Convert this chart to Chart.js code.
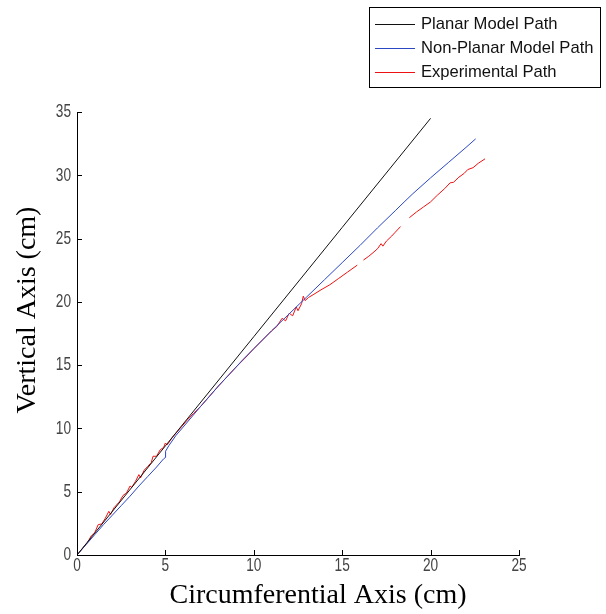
<!DOCTYPE html>
<html>
<head>
<meta charset="utf-8">
<script src="https://cdn.jsdelivr.net/npm/chart.js@4/dist/chart.umd.min.js"></script>
<style>
  body { margin: 0; background: #fff; }
  #plot { display: block; }
</style>
</head>
<body>
<canvas id="plot" width="606" height="614"></canvas>
<script>
const xTicks = [0, 5, 10, 15, 20, 25];
const yTicks = [0, 5, 10, 15, 20, 25, 30, 35];

const planarX = [0, 5, 10, 15, 20];
const planarY = [0, 8.62, 17.25, 25.88, 34.5];

const nonPlanarX = [0, 0.5, 1, 1.5, 2, 2.5, 3, 3.5, 4, 4.5, 4.9, 5.0, 5.02, 5.0, 5.2, 5.6, 6, 7, 8, 9,
  9.4, 10, 11, 12, 13, 14, 15, 16, 17, 18, 18.55, 19, 20, 21, 22, 22.55];
const nonPlanarY = [0, 0.8, 1.6, 2.4, 3.15, 3.9, 4.65, 5.45, 6.2, 6.95, 7.6, 7.7, 7.95, 8.2, 8.65, 9.45, 10.1, 11.75, 13.35, 14.85,
  15.46, 16.3, 17.7, 19.05, 20.4, 21.75, 23.1, 24.45, 25.85, 27.2, 27.95, 28.55, 29.8, 31.0, 32.2, 32.88];

const expX = [0, 0.3, 0.6, 0.8, 1.0, 1.2, 1.4, 1.6, 1.8, 1.9,
  2.1, 2.4, 2.6, 2.8, 3.0, 3.1, 3.3, 3.5, 3.6, 3.8,
  4.0, 4.2, 4.3, 4.5, 4.7, 4.9, 5.0, 5.1, 5.4, 5.8,
  6.2, 6.6, 7.0, 7.5, 8.0, 8.5, 9.0, 9.5, 10.0, 10.5,
  11.0, 11.3, 11.6, 11.8, 12.0, 12.2, 12.4, 12.5, 12.7, 12.8,
  12.9, 13.1, 13.4, 13.8, 14.3, 14.8, 15.3, 15.85, 16.0, 16.2,
  16.5, 16.8, 17.0, 17.2, 17.3, 17.5, 17.8, 18.0, 18.3, 18.5,
  18.8, 19.2, 19.6, 20.0, 20.4, 20.8, 21.1, 21.3, 21.6, 21.9,
  22.1, 22.4, 22.7, 23.08];
const expY = [0, 0.5, 1.0, 1.5, 1.75, 2.4, 2.45, 2.9, 3.45, 3.2,
  3.75, 4.2, 4.7, 4.9, 5.45, 5.35, 5.8, 6.35, 6.1, 6.7,
  7.0, 7.3, 7.8, 7.8, 8.3, 8.5, 8.85, 8.7, 9.3, 9.95,
  10.6, 11.2, 11.75, 12.55, 13.35, 14.1, 14.85, 15.55, 16.3, 17.0,
  17.7, 18.05, 18.7, 18.5, 19.1, 18.9, 19.6, 19.3, 19.85, 20.45,
  20.1, 20.35, 20.6, 20.95, 21.35, 21.85, 22.35, 22.9, null, 23.3,
  23.6, 23.95, 24.2, 24.6, 24.4, 24.8, 25.2, 25.5, 25.95, null,
  26.65, 27.1, 27.5, 27.9, 28.45, 28.95, 29.4, 29.45, 29.85, 30.15,
  30.45, 30.6, 30.95, 31.3];

const toPoints = (xs, ys) => xs.map((x, i) => ({ x: x, y: ys[i] }));

// matlab-like inward ticks, narrow tick labels, axis titles and boxed legend
const matlabDecor = {
  id: 'matlabDecor',
  afterDraw(chart) {
    const ctx = chart.ctx;
    const xs = chart.scales.x, ys = chart.scales.y;
    const a = chart.chartArea;
    ctx.save();

    ctx.strokeStyle = '#000';
    ctx.lineWidth = 1;
    ctx.beginPath();
    xTicks.forEach(v => {
      const px = Math.round(xs.getPixelForValue(v)) + 0.5;
      ctx.moveTo(px, a.bottom);
      ctx.lineTo(px, a.bottom - 5);
    });
    yTicks.forEach(v => {
      const py = Math.round(ys.getPixelForValue(v)) + 0.5;
      ctx.moveTo(a.left, py);
      ctx.lineTo(a.left + 5, py);
    });
    ctx.stroke();

    ctx.fillStyle = '#444';
    ctx.font = '19px "Liberation Sans", Arial, sans-serif';
    ctx.textBaseline = 'middle';
    const sx = 0.72;
    xTicks.forEach(v => {
      const px = xs.getPixelForValue(v);
      ctx.save();
      ctx.translate(px, 566);
      ctx.scale(sx, 1);
      ctx.textAlign = 'center';
      ctx.fillText(String(v), 0, 0);
      ctx.restore();
    });
    yTicks.forEach(v => {
      const py = ys.getPixelForValue(v);
      ctx.save();
      ctx.translate(71, py);
      ctx.scale(sx, 1);
      ctx.textAlign = 'right';
      ctx.fillText(String(v), 0, 0);
      ctx.restore();
    });

    // legend box
    ctx.strokeStyle = '#000';
    ctx.strokeRect(369.5, 7.5, 231, 80);
    ctx.font = '16.6px "Liberation Sans", Arial, sans-serif';
    ctx.textAlign = 'left';
    chart.data.datasets.forEach((ds, i) => {
      const y = Math.round(23.5 + i * 24.2) + 0.5;
      ctx.strokeStyle = ds.borderColor;
      ctx.beginPath();
      ctx.moveTo(375, y);
      ctx.lineTo(415, y);
      ctx.stroke();
      ctx.fillStyle = '#111';
      ctx.fillText(ds.label, 421, y);
    });

    // axis titles
    ctx.fillStyle = '#000';
    ctx.font = '28px "Liberation Serif", "Times New Roman", serif';
    ctx.textAlign = 'center';
    ctx.textBaseline = 'alphabetic';
    ctx.fillText('Circumferential Axis (cm)', 318, 603);
    ctx.translate(35, 310);
    ctx.rotate(-Math.PI / 2);
    ctx.fillText('Vertical Axis (cm)', 0, 0);
    ctx.restore();
  }
};

new Chart(document.getElementById('plot'), {
  type: 'line',
  data: {
    datasets: [
      { label: 'Planar Model Path', data: toPoints(planarX, planarY), borderColor: '#111111' },
      { label: 'Non-Planar Model Path', data: toPoints(nonPlanarX, nonPlanarY), borderColor: '#2b47c4' },
      { label: 'Experimental Path', data: toPoints(expX, expY), borderColor: '#ee1111' }
    ]
  },
  options: {
    responsive: false,
    animation: false,
    spanGaps: false,
    layout: { padding: { top: 112, right: 87, left: 0, bottom: 0 } },
    elements: {
      point: { radius: 0 },
      line: { borderWidth: 1, tension: 0 }
    },
    plugins: {
      legend: { display: false },
      tooltip: { enabled: false }
    },
    scales: {
      x: {
        type: 'linear',
        min: 0,
        max: 25,
        afterBuildTicks: s => { s.ticks = xTicks.map(v => ({ value: v })); },
        afterFit: s => { s.height = 59; },
        grid: { display: false },
        border: { color: '#000', width: 1 },
        ticks: { display: false }
      },
      y: {
        type: 'linear',
        min: 0,
        max: 35,
        afterBuildTicks: s => { s.ticks = yTicks.map(v => ({ value: v })); },
        afterFit: s => { s.width = 77; },
        grid: { display: false },
        border: { color: '#000', width: 1 },
        ticks: { display: false }
      }
    }
  },
  plugins: [matlabDecor]
});
</script>
</body>
</html>
